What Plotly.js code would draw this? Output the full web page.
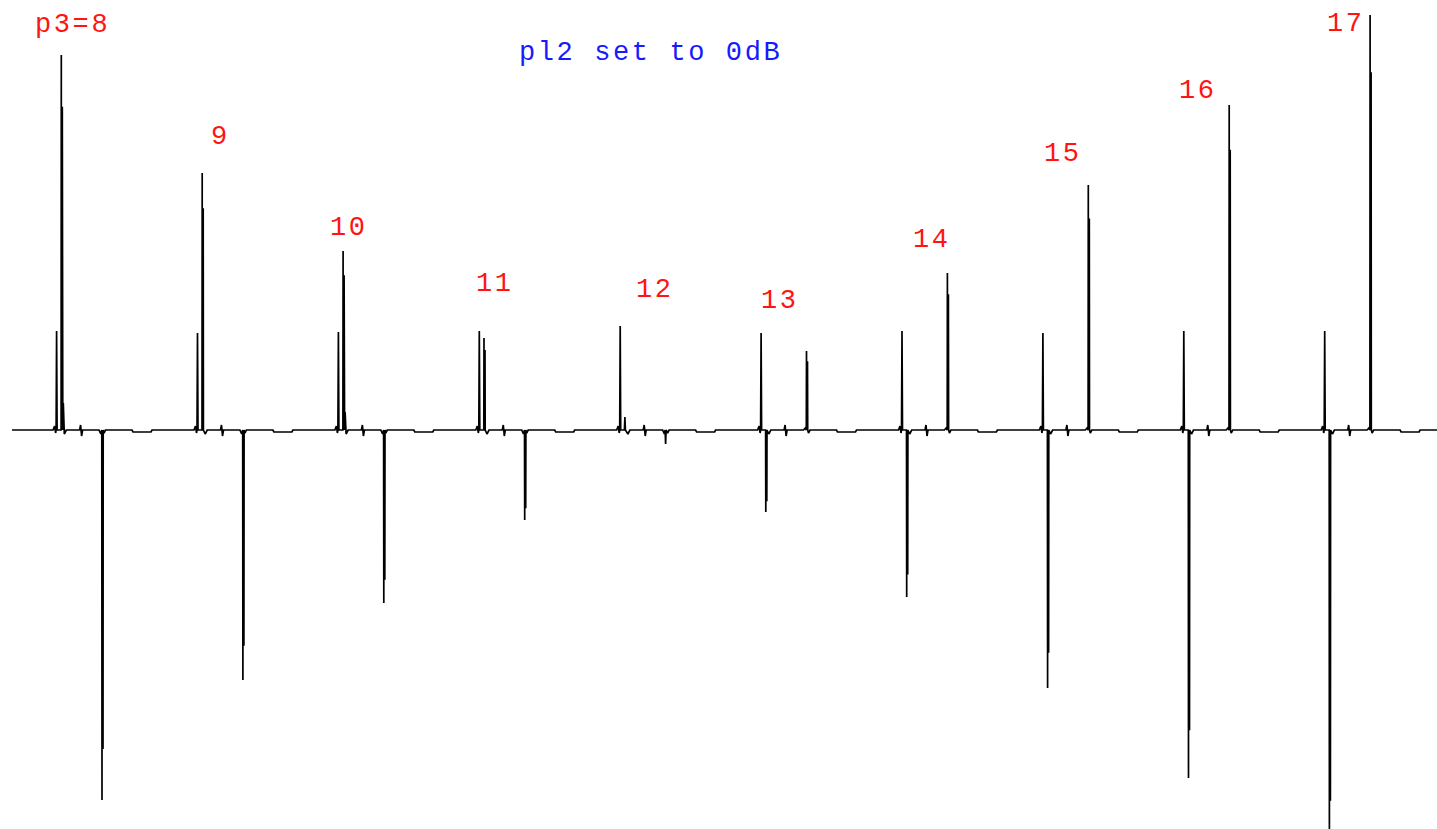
<!DOCTYPE html>
<html>
<head>
<meta charset="utf-8">
<script src="https://cdn.plot.ly/plotly-3.0.1.min.js"></script>
<style>
  html, body { margin: 0; padding: 0; background: #ffffff; }
  #plot { width: 1437px; height: 829px; }
  .annotation-text { letter-spacing: 2.6px; }
</style>
</head>
<body>
<div id="plot"></div>
<script>
// Array of 1D spectra, one per p3 value, plotted side by side on a shared baseline.
const labels    = ['p3=8', '9', '10', '11', '12', '13', '14', '15', '16', '17'];
// Peak intensities (baseline = 0) for the three lines in each spectrum
const refPeak   = [99, 97, 98, 99, 104, 97, 99, 97, 99, 99];
const peakB     = [375, 257, 179, 92, 13, -82, -167, -258, -348, -430];
const peakC     = [-370, -250, -173, -90, -14, 79, 157, 245, 325, 415];
const satellite = [27, 0, 18, 0, 0, 0, 0, 0, 0, 0];
const titleText = 'pl2 set to 0dB';

// Line positions inside one spectrum window
const shiftRef = 44.6, shiftB = 49.3, shiftC = 90.0;
const windowWidth = 140.9, firstStart = 12, plotEnd = 1437;

// Build the concatenated trace
const xs = [], ys = [];
function pt(x, y) { xs.push(x); ys.push(y); }
// narrow line: single sharp stroke
function spike(x, h) { pt(x - 0.5, 0); pt(x, h); pt(x + 0.5, 0); }
// broad line: apex sample followed by a lower neighbour sample one point over
function broad(x, h) {
  pt(x - 0.2, 0); pt(x, h); pt(x, h * 0.86); pt(x + 1.0, h * 0.86); pt(x + 1.2, 0);
}

labels.forEach((lab, k) => {
  const s = firstStart + windowWidth * k;
  pt(s, 0);
  // small dispersive wiggle ahead of the reference line
  pt(s + shiftRef - 3.5, 0); pt(s + shiftRef - 2, 4); pt(s + shiftRef - 1, -3);
  spike(s + shiftRef, refPeak[k]);
  if (Math.abs(peakB[k]) > 40) broad(s + shiftB, peakB[k]); else spike(s + shiftB, peakB[k]);
  if (satellite[k]) spike(s + shiftB + 2, satellite[k]);
  pt(s + shiftB + 3, -4); pt(s + shiftB + 5, 0);
  // small artefact between the lines
  pt(s + shiftRef + 23, 0); pt(s + shiftRef + 24, 5); pt(s + shiftRef + 25, -6); pt(s + shiftRef + 26, 0);
  pt(s + shiftC - 3, 0); pt(s + shiftC - 1.2, peakC[k] < 0 ? -4 : 2);
  if (Math.abs(peakC[k]) > 40) broad(s + shiftC, peakC[k]); else spike(s + shiftC, peakC[k]);
  pt(s + shiftC + 2, -3); pt(s + shiftC + 3.5, 0);
  // slight baseline offset near the window end
  pt(s + 120, 0); pt(s + 121, -2); pt(s + 139, -2); pt(s + 140, 0);
});
pt(plotEnd, 0);

const trace = {
  type: 'scatter', mode: 'lines', x: xs, y: ys,
  line: { color: '#000000', width: 1.7 },
  hoverinfo: 'skip'
};

// Label anchors (x, y) in the plot's coordinate frame
const labelAnchor = [[72, 405], [220, 293], [349, 202], [495, 146], [655, 140],
                     [780, 129], [932, 190], [1063, 276], [1198, 339], [1346, 406]];
const monoFont = 'Liberation Mono, Courier New, monospace';

const annotations = labels.map((lab, k) => ({
  x: labelAnchor[k][0], y: labelAnchor[k][1], xref: 'x', yref: 'y',
  text: lab, showarrow: false, xanchor: 'center', yanchor: 'middle',
  font: { family: monoFont, size: 27, color: 'rgb(255,20,20)' }
}));
annotations.push({
  x: 650, y: 377, xref: 'x', yref: 'y', text: titleText, showarrow: false,
  xanchor: 'center', yanchor: 'middle',
  font: { family: monoFont, size: 27, color: 'rgb(25,25,255)' }
});

const layout = {
  width: 1437, height: 829,
  margin: { l: 0, r: 0, t: 0, b: 0, pad: 0 },
  paper_bgcolor: '#ffffff', plot_bgcolor: '#ffffff',
  showlegend: false,
  xaxis: { range: [0, 1437], visible: false, fixedrange: true },
  yaxis: { range: [-399, 430], visible: false, fixedrange: true },
  annotations: annotations
};

Plotly.newPlot('plot', [trace], layout, { staticPlot: true, displayModeBar: false });
</script>
</body>
</html>
